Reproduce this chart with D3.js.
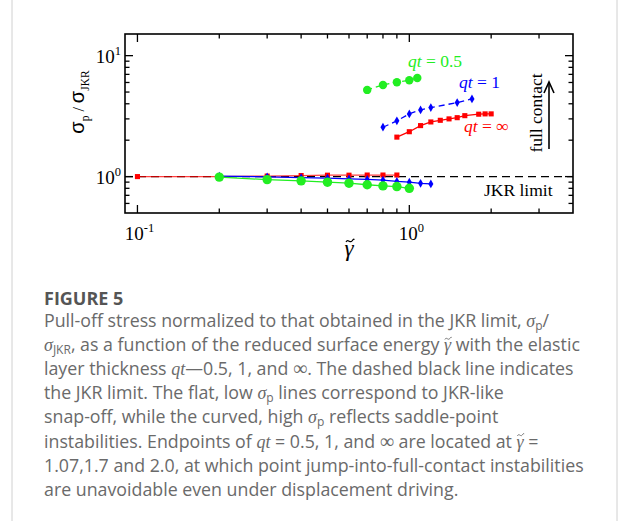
<!DOCTYPE html>
<html>
<head>
<meta charset="utf-8">
<script src="https://cdn.jsdelivr.net/npm/d3@7"></script>
<style>
  body { margin: 0; background: #fff; }
  svg { display: block; }
</style>
</head>
<body>
<script>
// pull-off stress vs reduced surface energy, log-log
const redLowX = [0.1, 0.2, 0.3, 0.4, 0.5, 0.6, 0.7, 0.8, 0.9];
const redLowY = [1.0, 1.0, 1.01, 1.02, 1.027, 1.027, 1.03, 1.03, 1.03];
const redHighX = [0.9, 1.0, 1.1, 1.2, 1.3, 1.4, 1.5, 1.6, 1.8, 1.9, 2.0];
const redHighY = [2.12, 2.35, 2.64, 2.83, 2.92, 3.0, 3.07, 3.19, 3.28, 3.3, 3.3];

const blueLowX = [0.2, 0.3, 0.4, 0.5, 0.6, 0.7, 0.8, 0.9, 1.0, 1.1, 1.2];
const blueLowY = [1.01, 0.995, 0.98, 0.97, 0.957, 0.948, 0.935, 0.912, 0.9, 0.88, 0.87];
const blueHighX = [0.8, 0.9, 1.0, 1.1, 1.2, 1.5, 1.7];
const blueHighY = [2.56, 2.89, 3.3, 3.56, 3.72, 4.09, 4.39];

const greenLowX = [0.2, 0.3, 0.4, 0.5, 0.6, 0.7, 0.8, 0.9, 1.0];
const greenLowY = [0.99, 0.944, 0.922, 0.899, 0.882, 0.856, 0.838, 0.827, 0.8];
const greenHighX = [0.7, 0.8, 0.9, 1.0, 1.07];
const greenHighY = [5.21, 5.72, 6.03, 6.26, 6.54];

const xMajor = [0.1, 1];
const xMajorExp = ["-1", "0"];
const xMinor = [0.2, 0.3, 0.4, 0.5, 0.6, 0.7, 0.8, 0.9, 2, 3];
const yMajor = [1, 10];
const yMajorExp = ["0", "1"];
const yMinor = [0.6, 0.7, 0.8, 0.9, 2, 3, 4, 5, 6, 7, 8, 9];

const captionLines = [
    [["Pull-off stress normalized to that obtained in the JKR limit, "], ["σ", "i"], ["p", "sub"], ["/"]],
    [["σ", "i"], ["JKR", "sub"], [", as a function of the reduced surface energy "], ["γ", "gt"], [" with the elastic"]],
    [["layer thickness "], ["qt", "i"], ["—0.5, 1, and "], ["∞", "inf"], [". The dashed black line indicates"]],
    [["the JKR limit. The flat, low "], ["σ", "i"], ["p", "sub"], [" lines correspond to JKR-like"]],
    [["snap-off, while the curved, high "], ["σ", "i"], ["p", "sub"], [" reflects saddle-point"]],
    [["instabilities. Endpoints of "], ["qt", "i"], [" = 0.5, 1, and "], ["∞", "inf"], [" are located at "], ["γ", "gt"], [" ="]],
    [["1.07,1.7 and 2.0, at which point jump-into-full-contact instabilities"]],
    [["are unavoidable even under displacement driving."]]
];

const W = 624, H = 521;
const plot = {left: 125, right: 573, top: 34, bottom: 213};
const serif = "'Liberation Serif', 'Times New Roman', serif";
const sans = "'Liberation Sans', Arial, sans-serif";

let svg = d3.select("body").append("svg")
    .attr("width", W)
    .attr("height", H);

svg.append("rect").attr("width", W).attr("height", H).attr("fill", "#fff");

// card borders
svg.append("line").attr("x1", 12).attr("x2", 12).attr("y1", 0).attr("y2", H)
    .attr("stroke", "#d0d0d0").attr("stroke-width", 1);
svg.append("line").attr("x1", 617).attr("x2", 617).attr("y1", 0).attr("y2", H)
    .attr("stroke", "#d0d0d0").attr("stroke-width", 1);

let x = d3.scaleLog().domain([0.09, 4.0]).range([plot.left, plot.right]);
let y = d3.scaleLog().domain([0.5, 15.1]).range([plot.bottom, plot.top]);

let g = svg.append("g");

// ticks, all pointing inward, on all four sides
function tickLines(vals, len, axis) {
    vals.forEach(function (v) {
        if (axis === "x") {
            let px = x(v);
            g.append("line").attr("x1", px).attr("x2", px)
                .attr("y1", plot.bottom).attr("y2", plot.bottom - len);
            g.append("line").attr("x1", px).attr("x2", px)
                .attr("y1", plot.top).attr("y2", plot.top + len);
        } else {
            let py = y(v);
            g.append("line").attr("x1", plot.left).attr("x2", plot.left + len)
                .attr("y1", py).attr("y2", py);
            g.append("line").attr("x1", plot.right).attr("x2", plot.right - len)
                .attr("y1", py).attr("y2", py);
        }
    });
}
tickLines(xMajor, 8, "x");
tickLines(xMinor, 4.5, "x");
tickLines(yMajor, 8, "y");
tickLines(yMinor, 4.5, "y");
g.selectAll("line").attr("stroke", "#000").attr("stroke-width", 1.3);

// JKR limit
svg.append("line")
    .attr("x1", plot.left).attr("x2", plot.right)
    .attr("y1", y(1)).attr("y2", y(1))
    .attr("stroke", "#000").attr("stroke-width", 1.4)
    .attr("stroke-dasharray", "8,5");

let line = d3.line().x(d => x(d[0])).y(d => y(d[1]));

function series(xs, ys, color, dash, marker, size, opacity) {
    let pts = xs.map((v, i) => [v, ys[i]]);
    svg.append("path")
        .attr("d", line(pts))
        .attr("fill", "none")
        .attr("stroke", color)
        .attr("stroke-width", 1.3)
        .attr("stroke-opacity", opacity || 1)
        .attr("stroke-dasharray", dash);
    let sym = d3.symbol().type(marker).size(size);
    svg.append("g").selectAll("path")
        .data(pts)
        .enter().append("path")
        .attr("d", sym)
        .attr("transform", d => "translate(" + x(d[0]) + "," + y(d[1]) + ")")
        .attr("fill", color);
}

const red = "#ff0000", blue = "#0000ff", green = "#22ee22";

series(redLowX, redLowY, red, null, d3.symbolSquare, 26, 0.75);
series(redHighX, redHighY, red, null, d3.symbolSquare, 26);
series(blueLowX, blueLowY, blue, null, d3.symbolDiamond, 22);
series(blueHighX, blueHighY, blue, "6,4", d3.symbolDiamond, 22);
series(greenLowX, greenLowY, green, null, d3.symbolCircle, 70);
series(greenHighX, greenHighY, green, "5,4", d3.symbolCircle, 56);

// frame
svg.append("rect")
    .attr("x", plot.left).attr("y", plot.top)
    .attr("width", plot.right - plot.left).attr("height", plot.bottom - plot.top)
    .attr("fill", "none").attr("stroke", "#000").attr("stroke-width", 1.6);

// tick labels
yMajor.forEach(function (v, i) {
    let t = svg.append("text")
        .attr("x", 121).attr("y", y(v) + 7)
        .attr("text-anchor", "end")
        .attr("font-family", serif).attr("font-size", 19);
    t.append("tspan").text("10");
    t.append("tspan").attr("dy", -8).attr("font-size", 12.5).text(yMajorExp[i]);
});
xMajor.forEach(function (v, i) {
    let t = svg.append("text")
        .attr("x", x(v) + 2).attr("y", 240)
        .attr("text-anchor", "middle")
        .attr("font-family", serif).attr("font-size", 19);
    t.append("tspan").text("10");
    t.append("tspan").attr("dy", -8).attr("font-size", 12.5).text(xMajorExp[i]);
});

// small tilde drawn as a path
function tilde(cx, cy, w, sw, color) {
    let h = w * 0.22;
    svg.append("path")
        .attr("d", "M" + (cx - w / 2) + "," + (cy + h * 0.6) +
            " C" + (cx - w / 4) + "," + (cy - h * 1.6) + " " + (cx) + "," + (cy + h * 1.6) + " " + (cx + w / 4) + "," + (cy) +
            " S" + (cx + w / 2) + "," + (cy - h) + " " + (cx + w / 2) + "," + (cy - h * 0.6))
        .attr("fill", "none")
        .attr("stroke", color)
        .attr("stroke-width", sw);
}

// axis titles
svg.append("text")
    .attr("x", 349).attr("y", 256)
    .attr("text-anchor", "middle")
    .attr("font-family", serif).attr("font-style", "italic").attr("font-size", 23)
    .text("γ");
tilde(350, 241, 8, 1.2, "#000");

let yl = svg.append("text")
    .attr("transform", "translate(84,102) rotate(-90)")
    .attr("text-anchor", "middle")
    .attr("font-family", serif).attr("font-size", 16);
yl.append("tspan").attr("font-family", sans).attr("font-size", 20).text("σ");
yl.append("tspan").attr("font-size", 11.5).attr("dy", 5).text("p");
yl.append("tspan").attr("dy", -5).text(" / ");
yl.append("tspan").attr("font-family", sans).attr("font-size", 20).text("σ");
yl.append("tspan").attr("font-size", 11.5).attr("dy", 5).text("JKR");

// annotations
function qtLabel(px, py, color, rest) {
    let t = svg.append("text")
        .attr("x", px).attr("y", py)
        .attr("font-family", serif).attr("font-size", 17.5)
        .attr("fill", color);
    t.append("tspan").attr("font-style", "italic").text("qt");
    t.append("tspan").text(" = " + rest);
}
qtLabel(408, 67, green, "0.5");
qtLabel(459, 88, blue, "1");
qtLabel(464, 132, red, "∞");

svg.append("text")
    .attr("x", 484).attr("y", 196)
    .attr("font-family", serif).attr("font-size", 17.5)
    .text("JKR limit");

svg.append("text")
    .attr("transform", "translate(542,113) rotate(-90)")
    .attr("text-anchor", "middle")
    .attr("font-family", serif).attr("font-size", 17.5)
    .text("full contact");

svg.append("line")
    .attr("x1", 549).attr("x2", 549).attr("y1", 149).attr("y2", 83)
    .attr("stroke", "#000").attr("stroke-width", 1.6);
svg.append("path")
    .attr("d", "M544,93 L549,82 L554,93")
    .attr("fill", "none").attr("stroke", "#000").attr("stroke-width", 1.6);

// caption
const capFont = "'Open Sans', 'Lato', sans-serif";
const capColor = "#6a6a6a";
svg.append("text")
    .attr("x", 44).attr("y", 305)
    .attr("font-family", capFont).attr("font-size", 18).attr("font-weight", 700)
    .attr("fill", "#555")
    .text("FIGURE 5");

captionLines.forEach(function (parts, i) {
    let baseY = 327 + i * 24.1;
    let t = svg.append("text")
        .attr("x", 44).attr("y", baseY)
        .attr("font-family", capFont).attr("font-size", 17.8)
        .attr("fill", capColor);
    let pending = 0;
    let gammas = [];
    parts.forEach(function (p) {
        let s = t.append("tspan").text(p[0]);
        if (pending) { s.attr("dy", pending); pending = 0; }
        if (p[1] === "i") s.attr("font-family", serif).attr("font-style", "italic").attr("font-size", 18);
        if (p[1] === "sub") { s.attr("font-size", 12).attr("dy", 3); pending = -3; }
        if (p[1] === "inf") s.attr("font-family", serif).attr("font-size", 20);
        if (p[1] === "gt") {
            s.attr("font-family", serif).attr("font-style", "italic").attr("font-size", 18);
            gammas.push(s.node());
        }
    });
    gammas.forEach(function (node) {
        let a = node.getStartPositionOfChar(0).x;
        let b = node.getEndPositionOfChar(0).x;
        tilde((a + b) / 2 + 0.5, baseY - 12.5, 6.5, 0.9, capColor);
    });
});
</script>
</body>
</html>
